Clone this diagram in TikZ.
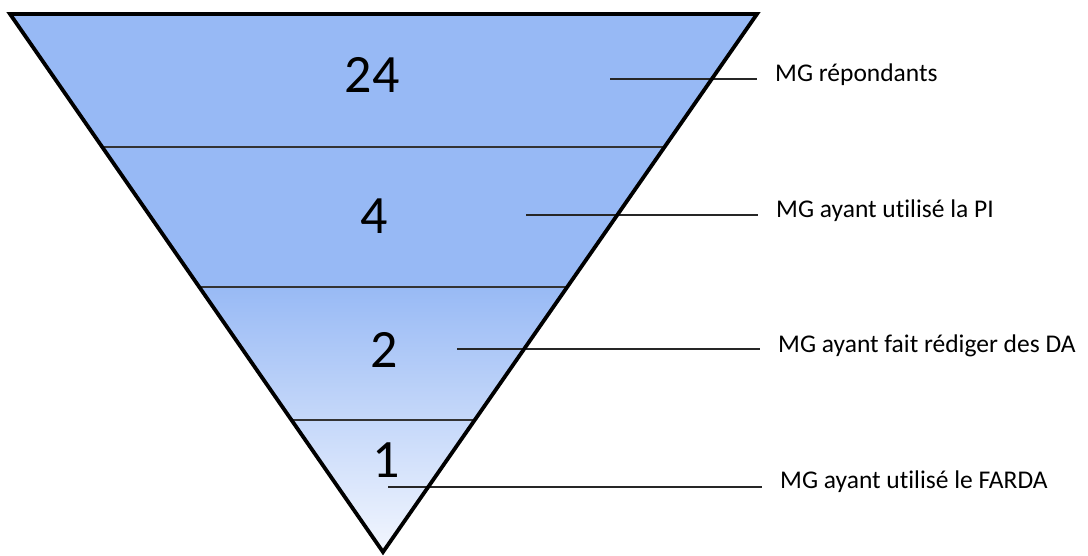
\documentclass[tikz,border=0pt]{standalone}
\usepackage{fontspec}
\setmainfont{Carlito}[Ligatures=NoCommon]
\usepackage{tikz}
\usetikzlibrary{calc, positioning}
\definecolor{funnelblue}{RGB}{151,185,245}
\definecolor{funnelfade}{RGB}{242,246,254}
\tikzset{
  funnelfill/.style={
    top color=funnelblue, bottom color=funnelfade, middle color=funnelblue
  },
  funneledge/.style={
    draw=black, line width=3.8pt, line join=miter
  },
  divider/.style={
    draw=black!80, line width=1.1pt
  },
  countnum/.style={
    anchor=base, inner sep=0pt, font=\fontsize{54}{60}\selectfont
  },
  stagelabel/.style={
    anchor=base west, inner xsep=18pt, inner ysep=0pt,
    font=\fontsize{25.5}{30}\selectfont
  },
  leader/.style={
    draw=black!85, line width=1.1pt
  },
}

\begin{document}
\begin{tikzpicture}[x=1pt, y=-1pt]
  \useasboundingbox (0,0) rectangle (1088,555);

  % Funnel corners
  \coordinate (tl) at (10,14);
  \coordinate (tr) at (757,14);
  \coordinate (ap) at (383,552);

  % Fill
  \fill[funnelfill] (tl) -- (tr) -- (ap) -- cycle;

  % Dividers between the stages
  \draw[divider] ($(tl)!0.2472!(ap)$) -- ($(tr)!0.2472!(ap)$);
  \draw[divider] ($(tl)!0.5074!(ap)$) -- ($(tr)!0.5074!(ap)$);
  \draw[divider] ($(tl)!0.7546!(ap)$) -- ($(tr)!0.7546!(ap)$);

  % Counts
  \node[countnum] (n24) at (372,92) {24};
  \node[countnum] (n4) at (374,233) {4};
  \node[countnum] (n2) at (384,367) {2};
  \node[countnum] (n1) at (386,477) {1};

  % Labels
  \node[stagelabel] (l1) at (757,81) {MG répondants};
  \node[stagelabel] (l2) at (758,217) {MG ayant utilisé la PI};
  \node[stagelabel] (l3) at (760,352) {MG ayant fait rédiger des DA};
  \node[stagelabel] (l4) at (762,488) {MG ayant utilisé le FARDA};

  % Leader lines
  \coordinate (s1) at (610,79);
  \coordinate (s2) at (526,215);
  \coordinate (s3) at (457,349);
  \coordinate (s4) at (388,487);
  \draw[leader] (s1) -- (s1 -| l1.west);
  \draw[leader] (s2) -- (s2 -| l2.west);
  \draw[leader] (s3) -- (s3 -| l3.west);
  \draw[leader] (s4) -- (s4 -| l4.west);

  % Outline
  \draw[funneledge] (tl) -- (tr) -- (ap) -- cycle;
\end{tikzpicture}
\end{document}
